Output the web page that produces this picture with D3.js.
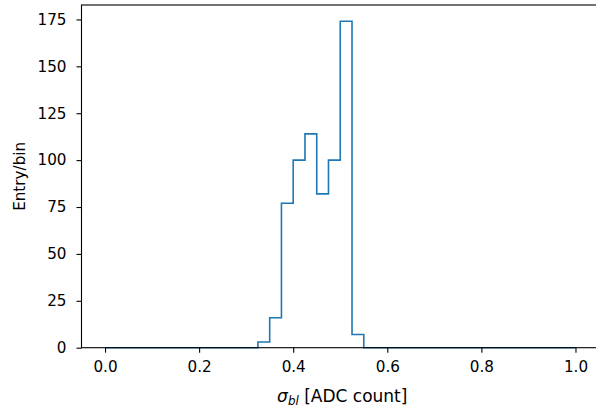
<!DOCTYPE html>
<html>
<head>
<meta charset="utf-8">
<script src="https://cdn.jsdelivr.net/npm/d3@7"></script>
<style>
  body { margin: 0; background: #fff; }
  text { font-family: "DejaVu Sans", sans-serif; fill: #000; }
</style>
</head>
<body>
<div id="chart"></div>
<script>
// histogram: 40 bins of width 0.025 on [0, 1]
const binLo = 0;
const binHi = 1;
const counts = [
  0, 0, 0, 0, 0, 0, 0, 0, 0, 0,
  0, 0, 0, 3, 16, 77, 100, 114, 82, 100,
  174, 7, 0, 0, 0, 0, 0, 0, 0, 0,
  0, 0, 0, 0, 0, 0, 0, 0, 0, 0
];
const xTicks = [0.0, 0.2, 0.4, 0.6, 0.8, 1.0];
const yTicks = [0, 25, 50, 75, 100, 125, 150, 175];

const width = 596, height = 409;
const margin = { top: 5, right: -3, bottom: 61.3, left: 81.5 };
const innerWidth = width - margin.left - margin.right;
const innerHeight = height - margin.top - margin.bottom;
const fontSize = 15.2;
const labelSize = 17;

const pad = (binHi - binLo) * 0.05;
const xScale = d3.scaleLinear()
    .domain([binLo - pad, binHi + pad])
    .range([0, innerWidth]);

const yScale = d3.scaleLinear()
    .domain([0, d3.max(counts) * 1.05])
    .range([innerHeight, 0]);

const svg = d3.select("#chart")
    .append("svg")
    .attr("width", width)
    .attr("height", height);

const g = svg.append("g")
    .attr("transform", `translate(${margin.left}, ${margin.top})`);

const bw = (binHi - binLo) / counts.length;
const pts = [[binLo, 0]];
counts.forEach((c, i) => {
    pts.push([binLo + i * bw, c]);
    pts.push([binLo + (i + 1) * bw, c]);
});
pts.push([binHi, 0]);

const line = d3.line()
    .x(d => xScale(d[0]))
    .y(d => yScale(d[1]));

g.append("path")
    .datum(pts)
    .attr("d", line)
    .attr("fill", "none")
    .attr("stroke", "#1f77b4")
    .attr("stroke-width", 1.6);

const xAxis = d3.axisBottom(xScale)
    .tickValues(xTicks)
    .tickFormat(d3.format(".1f"))
    .tickSize(5)
    .tickSizeOuter(0)
    .tickPadding(9);

const yAxis = d3.axisLeft(yScale)
    .tickValues(yTicks)
    .tickSize(5)
    .tickSizeOuter(0)
    .tickPadding(10);

const gx = g.append("g")
    .attr("transform", `translate(0, ${innerHeight})`)
    .call(xAxis);
const gy = g.append("g").call(yAxis);

[gx, gy].forEach(ax => {
    ax.select(".domain").remove();
    ax.selectAll("line").attr("stroke", "#000").attr("stroke-width", 1.1);
    ax.selectAll("text")
        .attr("font-size", fontSize)
        .attr("font-family", "DejaVu Sans")
        .attr("fill", "#222");
});

// frame
g.append("rect")
    .attr("x", 0)
    .attr("y", 0)
    .attr("width", innerWidth)
    .attr("height", innerHeight)
    .attr("fill", "none")
    .attr("stroke", "#000")
    .attr("stroke-width", 1.1);

// axis labels
const xl = svg.append("text")
    .attr("x", margin.left + xScale(0.5) + 2)
    .attr("y", 401.5)
    .attr("text-anchor", "middle")
    .attr("font-size", labelSize)
    .attr("fill", "#222");
xl.append("tspan").attr("font-style", "italic").text("σ");
xl.append("tspan").attr("font-style", "italic").attr("font-size", labelSize * 0.7)
    .attr("dy", 3.5).text("bl");
xl.append("tspan").attr("dy", -3.5).text(" [ADC count]");

svg.append("text")
    .attr("transform", `translate(24.5, ${margin.top + innerHeight / 2}) rotate(-90)`)
    .attr("text-anchor", "middle")
    .attr("font-size", fontSize)
    .attr("fill", "#222")
    .text("Entry/bin");
</script>
</body>
</html>
